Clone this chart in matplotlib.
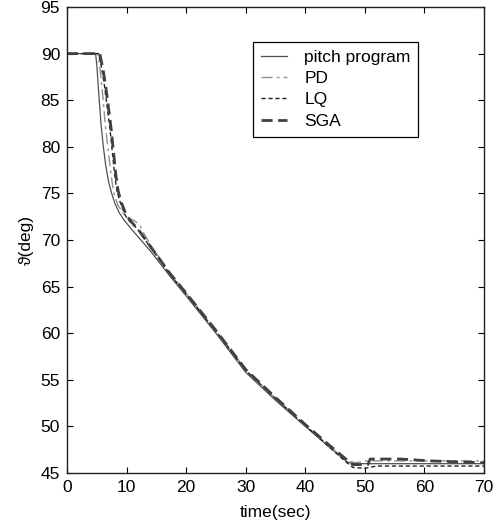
import matplotlib
matplotlib.use("Agg")
import matplotlib.pyplot as plt

plt.rcParams['font.family'] = ['Liberation Sans', 'DejaVu Sans']
plt.rcParams['font.size'] = 12.5

# pitch program (reference trajectory)
t_prog = [0, 4.8, 5.0, 5.3, 5.7, 6.1, 6.5, 7.0, 7.5, 8.0, 8.7, 9.5, 10.9, 13.9, 17.3,
          20, 25, 30, 35, 40, 44, 47, 48, 70]
v_prog = [90, 90, 88.8, 86, 82.5, 80, 78, 76.2, 75.0, 74.0, 73.0, 72.2, 71.1, 68.9, 66.1,
          64.0, 60.0, 55.8, 52.8, 50.0, 47.8, 46.2, 46.0, 46.0]

# PD controller response
t_pd = [0, 5.2, 5.6, 6.0, 6.4, 6.9, 7.4, 7.8, 8.5, 9.5, 10.5, 11.5, 12.3, 13.0, 14.0,
        17.3, 20, 25, 30, 35, 40, 44, 47, 48.5, 50, 70]
v_pd = [90, 90, 88, 85.5, 82.5, 79.7, 77, 75.2, 73.8, 72.8, 72.3, 72.0, 71.5, 70.6, 69.5,
        66.4, 64.3, 60.3, 56.1, 53.0, 50.1, 47.9, 46.3, 46.1, 46.3, 46.3]

# LQ controller response
t_lq = [0, 5.3, 5.8, 6.3, 6.8, 7.2, 7.6, 8.0, 8.4, 9.0, 9.8, 10.8, 11.8, 13.9, 17.3,
        20, 25, 30, 35, 40, 44, 47, 48, 50, 52, 70]
v_lq = [90, 90, 88.5, 86.5, 84, 82, 79.5, 77, 75.2, 73.9, 72.6, 71.8, 71.2, 69.3, 66.3,
        64.2, 60.2, 56.0, 53.0, 50.1, 47.8, 46.1, 45.6, 45.5, 45.75, 45.75]

# SGA controller response
t_sga = [0, 5.5, 6.0, 6.5, 7.0, 7.4, 7.8, 8.2, 8.6, 9.2, 10.0, 11.0, 12.0, 13.9, 17.3,
         20, 25, 30, 35, 40, 44, 47, 48, 50.5, 50.9, 56, 61, 70]
v_sga = [90, 90, 88.5, 86.5, 84, 82, 79.5, 77, 75.2, 73.9, 72.6, 71.8, 71.1, 69.4, 66.4,
         64.3, 60.3, 56.1, 53.1, 50.2, 48.0, 46.4, 45.9, 45.9, 46.5, 46.5, 46.3, 46.1]

fig = plt.figure(figsize=(4.97, 5.27), dpi=100)
ax = fig.add_axes([67 / 497, 1 - 473 / 527, 417 / 497, 466 / 527])

ax.plot(t_prog, v_prog, color='#505050', lw=0.9, ls='-', label='pitch program')
ax.plot(t_pd, v_pd, color='#909090', lw=1.0, ls=(0, (8, 3, 2, 3)), label='PD')
ax.plot(t_lq, v_lq, color='#202020', lw=1.0, ls=(0, (3, 2)), label='LQ')
ax.plot(t_sga, v_sga, color='#404040', lw=2.0, ls=(0, (4, 2)), label='SGA')

ax.set_xlim(0, 70)
ax.set_ylim(45, 95)
ax.set_xticks(range(0, 71, 10))
ax.set_yticks(range(45, 96, 5))
ax.tick_params(direction='in', length=4, width=0.8, top=True, right=True,
               labelsize=12.5, pad=5)
for s in ax.spines.values():
    s.set_linewidth(1.0)
    s.set_color('#202020')

ax.set_xlabel('time(sec)', fontsize=12.5, labelpad=7)
ax.set_ylabel('ϑ(deg)', fontsize=12.5, labelpad=5)

leg = ax.legend(loc='upper left', bbox_to_anchor=(253 / 497, 1 - 41.7 / 527),
                bbox_transform=fig.transFigure, borderaxespad=0,
                fancybox=False, framealpha=1, edgecolor='black',
                handlelength=1.5, handletextpad=1.0, labelspacing=0.36,
                borderpad=0.45, fontsize=12.5)
leg.get_frame().set_linewidth(0.9)

fig.savefig('out.png', dpi=100)
